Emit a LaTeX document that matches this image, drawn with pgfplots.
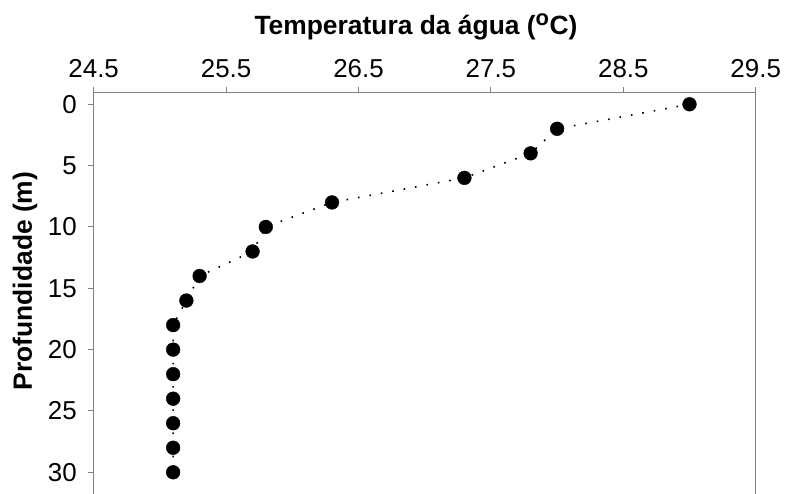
\documentclass[border=0pt]{standalone}
\usepackage{pgfplots}
\pgfplotsset{compat=1.18}
\usepackage{fontspec}
\setmainfont{Liberation Sans}

% Temperature profile: depth (m) vs. water temperature (deg C)
\begin{document}
\begin{tikzpicture}
\begin{axis}[
  at={(0,0)}, anchor=south west,
  scale only axis,
  width=662bp, height=403.8bp,
  xmin=24.5, xmax=29.5,
  ymin=-0.92, ymax=32,
  y dir=reverse,
  xtick={24.5,25.5,...,29.5},
  ytick={0,5,...,30},
  xtick pos=top, xticklabel pos=top,
  ytick pos=left,
  tick align=outside,
  major tick length=5.5bp,
  axis line style={draw=black!50, line width=1bp},
  every tick/.style={draw=black!50, line width=1bp},
  tick label style={font=\fontsize{26}{28}\selectfont},
  /pgf/number format/assume math mode=true,
  xticklabel style={yshift=6bp},
  yticklabel style={xshift=-8bp},
  xticklabel={\pgfmathprintnumber[fixed,precision=1,fixed zerofill]{\tick}},
  clip=false,
]
\addplot[black, line width=1.6bp, dash pattern=on 1.6bp off 10bp,
  mark=*, mark size=6.9bp, mark options={solid, fill=black, draw=black, line width=0.4bp}]
  table[row sep=\\] {
  x y \\
  29.0 0 \\
  28.0 2 \\
  27.8 4 \\
  27.3 6 \\
  26.3 8 \\
  25.8 10 \\
  25.7 12 \\
  25.3 14 \\
  25.2 16 \\
  25.1 18 \\
  25.1 20 \\
  25.1 22 \\
  25.1 24 \\
  25.1 26 \\
  25.1 28 \\
  25.1 30 \\
  };
\end{axis}
\node[font=\bfseries\fontsize{26.5}{28}\selectfont, anchor=base] at (322.3bp,461.8bp) {Temperatura da água (\textsuperscript{\fontsize{22}{22}\selectfont o}C)};
\node[font=\bfseries\fontsize{26.5}{28}\selectfont, rotate=90, anchor=base] at (-61.7bp,215.8bp) {Profundidade (m)};
\pgfresetboundingbox
\path[use as bounding box] (-93.7bp,2.8bp) rectangle (693.3bp,496.8bp);
\end{tikzpicture}
\end{document}
